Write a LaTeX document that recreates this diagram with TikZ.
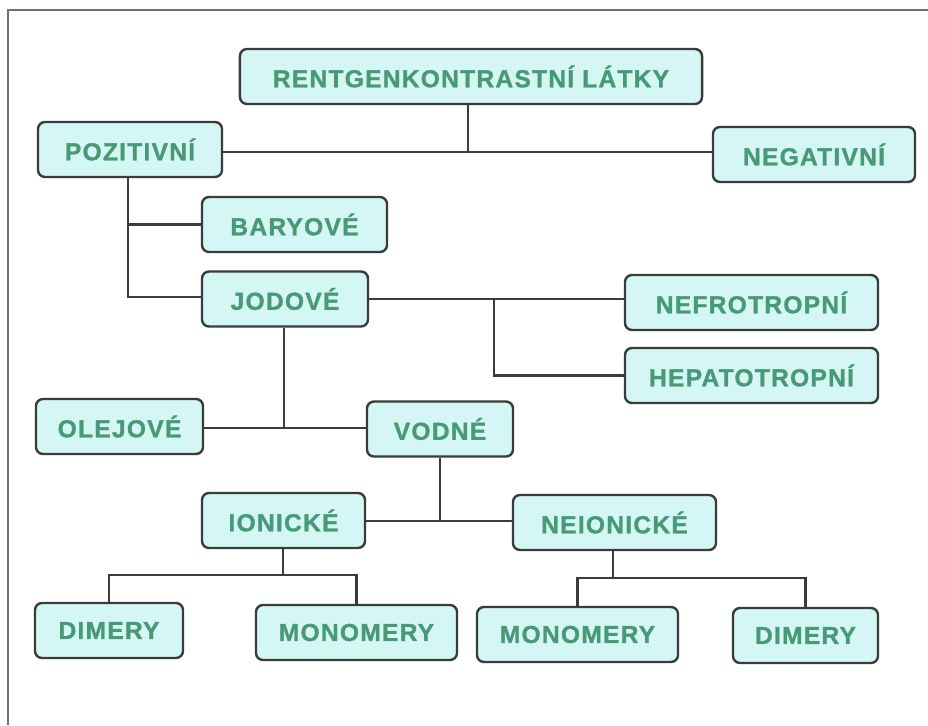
\documentclass[tikz,border=0pt]{standalone}
\usepackage{fontspec}
\setmainfont{Liberation Sans}
\usepackage{tikz}

\definecolor{boxfill}{RGB}{212,247,245}
\definecolor{boxline}{RGB}{58,60,58}
\definecolor{labelgreen}{RGB}{72,154,118}
\definecolor{framecol}{RGB}{112,114,98}

\begin{document}
\begin{tikzpicture}[x=0.025cm, y=-0.025cm,
    box/.style={draw=boxline, fill=boxfill, line width=1.7pt, rounded corners=5pt,
        text=labelgreen, minimum height=1.375cm, inner sep=0pt,
        font=\bfseries\fontsize{17.5}{20}\selectfont\addfontfeatures{LetterSpace=5,FakeBold=1.2}},
    link/.style={draw=boxline, line width=1.6pt}]
        \useasboundingbox (0,0) rectangle (928,725);
        \fill[white] (0,0) rectangle (928,725);
        \draw[framecol, line width=1.5pt] (8,725) -- (8,10) -- (928,10);

        \node[box, minimum width=11.55cm] (rentgen) at (471,76.5) {RENTGENKONTRASTNÍ LÁTKY};
        \node[box, minimum width=4.6cm] (pozitivni) at (130,149.5) {POZITIVNÍ};
        \node[box, minimum width=5.05cm] (negativni) at (814,154.5) {NEGATIVNÍ};
        \node[box, minimum width=4.625cm] (baryove) at (294.5,224.5) {BARYOVÉ};
        \node[box, minimum width=4.15cm] (jodove) at (285,299) {JODOVÉ};
        \node[box, minimum width=6.325cm] (nefro) at (751.5,302.5) {NEFROTROPNÍ};
        \node[box, minimum width=6.325cm] (hepato) at (751.5,375.5) {HEPATOTROPNÍ};
        \node[box, minimum width=4.175cm] (olejove) at (119.5,426.5) {OLEJOVÉ};
        \node[box, minimum width=3.65cm] (vodne) at (440,429) {VODNÉ};
        \node[box, minimum width=4.075cm] (ionicke) at (283.5,520.5) {IONICKÉ};
        \node[box, minimum width=5.075cm] (neionicke) at (614.5,522.5) {NEIONICKÉ};
        \node[box, minimum width=3.7cm] (dimL) at (109,630.5) {DIMERY};
        \node[box, minimum width=5.025cm] (monoL) at (356.5,632.5) {MONOMERY};
        \node[box, minimum width=5.025cm] (monoR) at (577.5,634.5) {MONOMERY};
        \node[box, minimum width=3.625cm] (dimR) at (805.5,635.5) {DIMERY};

        % junctions
        \coordinate (topjoin) at (468,152);
        \coordinate (pozjoin) at (128,297);
        \coordinate (jodjoin) at (494,299);
        \coordinate (jodlow) at (284,428);
        \coordinate (vodlow) at (440,521);
        \coordinate (ionbar) at (283,575);
        \coordinate (neibar) at (613,578);

        \draw[link] (rentgen.south -| topjoin) -- (topjoin);
        \draw[link] (pozitivni.east |- topjoin) -- (negativni.west |- topjoin);
        \draw[link] (pozitivni.south -| pozjoin) -- (pozjoin) -- (jodove.west |- pozjoin);
        \draw[link] (baryove.west -| pozjoin) -- (baryove.west);
        \draw[link] (jodove.east |- jodjoin) -- (nefro.west |- jodjoin);
        \draw[link] (jodjoin) |- (hepato.west);
        \draw[link] (jodove.south -| jodlow) -- (jodlow);
        \draw[link] (olejove.east |- jodlow) -- (vodne.west |- jodlow);
        \draw[link] (vodne.south -| vodlow) -- (vodlow);
        \draw[link] (ionicke.east |- vodlow) -- (neionicke.west |- vodlow);
        \draw[link] (ionicke.south -| ionbar) -- (ionbar);
        \draw[link] (dimL.north) |- (ionbar) -| (monoL.north);
        \draw[link] (neionicke.south -| neibar) -- (neibar);
        \draw[link] (monoR.north) |- (neibar) -| (dimR.north);
    \end{tikzpicture}
\end{document}
